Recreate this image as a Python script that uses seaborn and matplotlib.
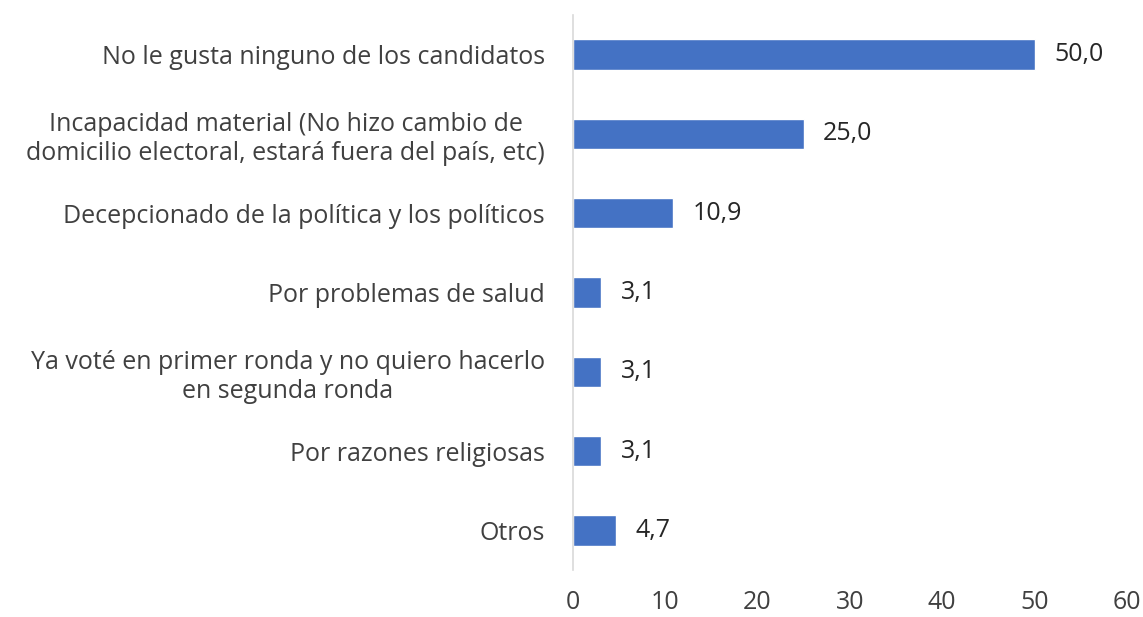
import pandas as pd
import matplotlib.pyplot as plt
import seaborn as sns

categories = [
    "No le gusta ninguno de los candidatos",
    "Incapacidad material (No hizo cambio de\ndomicilio electoral, estará fuera del país, etc)",
    "Decepcionado de la política y los políticos",
    "Por problemas de salud",
    "Ya voté en primer ronda y no quiero hacerlo\nen segunda ronda",
    "Por razones religiosas",
    "Otros",
]
values = [50.0, 25.0, 10.9, 3.1, 3.1, 3.1, 4.7]
x_ticks = [0, 10, 20, 30, 40, 50, 60]

df = pd.DataFrame({"Motivo": categories, "Porcentaje": values})

sns.set_theme(style="white")
plt.rcParams['font.family'] = ['Open Sans', 'DejaVu Sans']

fig = plt.figure(figsize=(11.43, 6.17), dpi=100)
ax = fig.add_axes([0.501, 0.076, 0.485, 0.9])

sns.barplot(data=df, y="Motivo", x="Porcentaje", color="#4472C4",
            width=0.38, saturation=1, ax=ax)

for cont in ax.containers:
    ax.bar_label(cont, labels=[f"{v:.1f}".replace(".", ",") for v in values],
                 padding=14, fontsize=18, color="#262626")

ax.set_xlim(0, 60)
ax.set_xticks(x_ticks)
ax.set_xticklabels([str(t) for t in x_ticks], fontsize=18, color="#404040")
ax.tick_params(axis="y", labelsize=18, colors="#404040", length=0, pad=20)
ax.tick_params(axis="x", length=0, pad=14)
for lbl in ax.get_yticklabels():
    lbl.set_horizontalalignment("right")
    lbl.set_multialignment("center")
ax.set_xlabel("")
ax.set_ylabel("")
for s in ["top", "right", "bottom"]:
    ax.spines[s].set_visible(False)
ax.spines["left"].set_color("#D9D9D9")
ax.spines["left"].set_linewidth(1.2)

fig.savefig("out.png", dpi=100)
